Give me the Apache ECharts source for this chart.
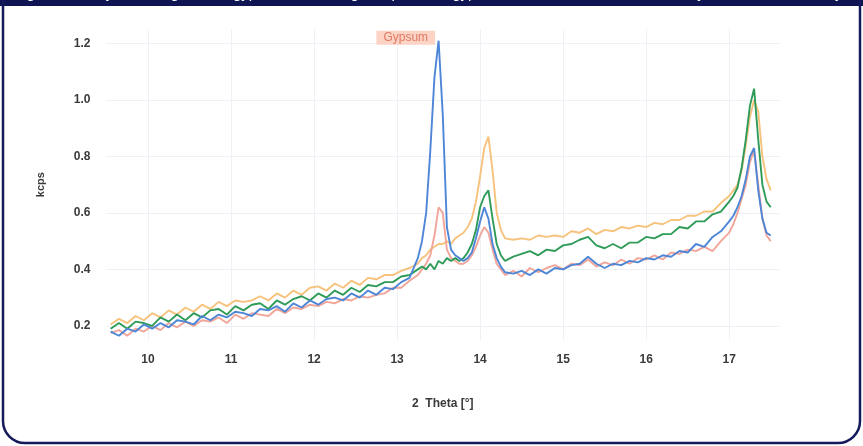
<!DOCTYPE html>
<html>
<head>
<meta charset="utf-8">
<script src="https://cdn.jsdelivr.net/npm/echarts@6/dist/echarts.min.js"></script>
<style>
html,body{margin:0;padding:0;background:#fff;}
#c{width:863px;height:446px;}
</style>
</head>
<body>
<div id="c"></div>
<script>
// ---- data ----
const xTicks = [10, 11, 12, 13, 14, 15, 16, 17];
const yTicks = [0.2, 0.4, 0.6, 0.8, 1.0, 1.2];

const twoTheta = [
  9.55,9.65,9.75,9.85,9.95,10.05,10.15,10.25,10.35,10.45,10.55,10.65,10.75,10.85,10.95,
  11.05,11.15,11.25,11.35,11.45,11.55,11.65,11.75,11.85,11.95,12.05,12.15,12.25,12.35,12.45,
  12.55,12.65,12.75,12.85,12.95,13.05,13.15,13.25,
  13.30,13.35,13.40,13.45,13.50,13.55,13.60,13.65,13.70,13.75,13.80,13.85,13.90,13.95,14.00,
  14.05,14.10,14.15,14.20,14.25,14.30,
  14.4,14.5,14.6,14.7,14.8,14.9,15.0,15.1,15.2,15.3,15.4,15.5,15.6,15.7,15.8,15.9,16.0,16.1,
  16.2,16.3,16.4,16.5,16.6,16.7,16.8,16.9,17.0,
  17.05,17.10,17.15,17.20,17.25,17.30,17.35,17.40,17.45,17.50
];

const blueValues = [
  .18,.165,.19,.18,.205,.19,.21,.195,.22,.215,.205,.235,.22,.24,.23,
  .25,.245,.235,.26,.255,.27,.25,.28,.265,.29,.275,.295,.3,.29,.315,
  .3,.325,.31,.335,.33,.355,.37,.44,
  .50,.60,.82,1.08,1.21,.95,.55,.47,.45,.44,.43,.44,.46,.51,.57,
  .62,.58,.49,.44,.41,.39,
  .385,.395,.38,.40,.385,.405,.40,.415,.42,.445,.42,.405,.42,.415,.43,.425,.44,.435,
  .45,.445,.465,.46,.49,.48,.515,.535,.57,
  .59,.62,.66,.72,.80,.83,.68,.58,.53,.52
];

const pinkValues = [
  .175,.185,.165,.19,.18,.2,.185,.21,.195,.215,.2,.22,.215,.23,.21,
  .24,.225,.245,.24,.235,.26,.245,.265,.26,.275,.27,.285,.28,.295,.29,
  .305,.3,.31,.315,.335,.335,.36,.38,
  .40,.42,.45,.52,.62,.60,.47,.44,.43,.42,.42,.43,.45,.48,.52,
  .55,.53,.47,.42,.40,.38,
  .395,.375,.405,.39,.405,.415,.40,.42,.415,.435,.41,.425,.415,.435,.42,.44,.435,.45,
  .435,.46,.455,.47,.465,.48,.465,.50,.53,
  .56,.60,.65,.70,.78,.82,.70,.58,.52,.50
];

const greenValues = [
  .19,.21,.19,.215,.21,.2,.23,.215,.24,.22,.245,.23,.255,.26,.24,
  .27,.255,.275,.28,.26,.29,.275,.295,.305,.29,.315,.3,.325,.31,.335,
  .32,.345,.34,.355,.355,.375,.38,.40,
  .41,.40,.42,.40,.43,.42,.44,.43,.44,.43,.44,.46,.49,.54,.62,
  .66,.68,.58,.49,.45,.43,
  .445,.455,.465,.45,.47,.465,.485,.49,.505,.515,.485,.475,.49,.475,.495,.495,.515,.51,
  .525,.525,.55,.545,.57,.57,.595,.605,.64,
  .66,.69,.76,.86,.98,1.04,.86,.70,.64,.62
];

const orangeValues = [
  .205,.225,.21,.235,.22,.245,.23,.255,.24,.265,.25,.275,.26,.285,.27,
  .29,.285,.29,.305,.29,.315,.3,.325,.31,.335,.34,.325,.35,.335,.36,
  .345,.37,.365,.38,.38,.395,.405,.42,
  .44,.45,.47,.48,.49,.49,.50,.49,.51,.52,.53,.55,.58,.64,.73,
  .83,.87,.75,.60,.54,.51,
  .505,.51,.505,.52,.515,.52,.515,.535,.53,.545,.525,.54,.535,.55,.545,.555,.55,.565,
  .56,.575,.575,.59,.59,.605,.605,.635,.66,
  .68,.70,.75,.84,.94,1.00,.96,.80,.72,.68
];

const gypsumPosition = 13.5;
const gypsumLabel = 'Gypsum';

function pairs(vals){ return twoTheta.map((x,i)=>[x, vals[i]]); }

const chart = echarts.init(document.getElementById('c'), null, {renderer:'canvas'});

const labelFont = {color:'#3a3a3a', fontSize:12, fontWeight:'bold', fontFamily:'Liberation Sans, Arial, sans-serif'};

function lineSeries(name, vals, color, z){
  return {
    name, type:'line', data:pairs(vals), showSymbol:false, smooth:false, z,
    lineStyle:{color, width:1.9}, itemStyle:{color}
  };
}

const option = {
  animation:false,
  backgroundColor:'#ffffff',
  grid:{left:106.5, right:84, top:29.4, bottom:106},
  xAxis:{
    type:'value', min:9.5, max:17.6,
    name:'2  Theta [°]', nameLocation:'middle', nameGap:58,
    nameTextStyle:{color:'#3a3a3a', fontSize:12, fontWeight:'bold', fontFamily:'Liberation Sans, Arial, sans-serif'},
    axisLine:{show:false}, axisTick:{show:false, customValues:xTicks},
    axisLabel:Object.assign({customValues:xTicks, margin:14}, labelFont),
    splitLine:{show:true, lineStyle:{color:'#eef0f6', width:1}}
  },
  yAxis:{
    type:'value', min:0.15, max:1.25,
    name:'kcps', nameLocation:'middle', nameGap:60,
    nameTextStyle:{color:'#3a3a3a', fontSize:11, fontWeight:'bold', fontFamily:'Liberation Sans, Arial, sans-serif'},
    axisLine:{show:false}, axisTick:{show:false, customValues:yTicks},
    axisLabel:Object.assign({customValues:yTicks, margin:16, formatter:v=>v.toFixed(1)}, labelFont),
    splitLine:{show:true, lineStyle:{color:'#eef0f6', width:1}}
  },
  series:[
    lineSeries('orange', orangeValues, '#f6c27c', 2),
    Object.assign(lineSeries('pink', pinkValues, '#f2a599', 3), {
      markLine:{
        silent:true, symbol:['none','none'],
        lineStyle:{color:'#f4bcb0', width:2, type:'solid'},
        label:{show:false},
        data:[[{coord:[gypsumPosition, 0.135]}, {coord:[gypsumPosition, 1.2]}]]
      },
      markPoint:{
        symbol:'rect', symbolSize:[1,1], itemStyle:{color:'rgba(0,0,0,0)'},
        label:{show:true, position:'left', distance:3, formatter:gypsumLabel,
          color:'#e07a62', fontSize:12, fontFamily:'Liberation Sans, Arial, sans-serif',
          backgroundColor:'#fcd3c5', padding:[1,7,1,7]},
        data:[{coord:[gypsumPosition, 1.22]}]
      }
    }),
    lineSeries('green', greenValues, '#2f9b58', 4),
    lineSeries('blue', blueValues, '#4d86d6', 5)
  ],
  graphic:[
    {type:'rect', shape:{x:0, y:0, width:863, height:6}, style:{fill:'#0e1552'}, z:100},
    {type:'text', x:14, y:-14, style:{text:'Figure 6: X-ray diffractograms of gypsum-containing samples, the gypsum reflection is marked and the y-axis shows intensity', fill:'#ffffff', font:'15px Liberation Sans, Arial, sans-serif'}, z:101},
    {type:'rect', shape:{x:3, y:-40, width:857, height:483, r:22}, style:{fill:'none', stroke:'#151a5a', lineWidth:2.5}, z:100}
  ]
};
chart.setOption(option);
</script>
</body>
</html>
